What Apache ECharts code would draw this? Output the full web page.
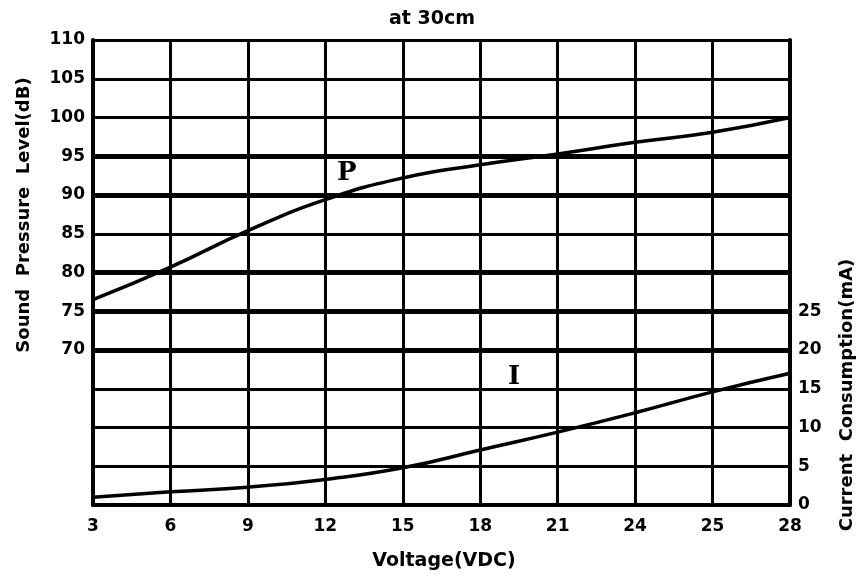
<!DOCTYPE html>
<html>
<head>
<meta charset="utf-8">
<script src="https://cdn.jsdelivr.net/npm/echarts@6/dist/echarts.min.js"></script>
<style>
  html, body { margin: 0; padding: 0; background: #fff; }
  #chart { width: 864px; height: 580px; }
</style>
</head>
<body>
<div id="chart"></div>
<script>
// voltage steps on the x axis (the 25 is printed that way on the original)
var volts = ['3', '6', '9', '12', '15', '18', '21', '24', '25', '28'];
// sound pressure level, dB (left axis)
var splValues = [76.5, 80.7, 85.4, 89.4, 92.2, 93.9, 95.3, 96.8, 98.1, 100];
// current consumption, mA (right axis)
var currentValues = [1.0, 1.7, 2.3, 3.3, 4.8, 7.1, 9.4, 11.9, 14.6, 17.0];
// grid rows drawn heavier in the original
var heavyRows = [95, 90, 80, 75, 70];

var labelFont = 'DejaVu Sans';

var myChart = echarts.init(document.getElementById('chart'));
var option = {
    backgroundColor: '#ffffff',
    animation: false,
    title: {
        text: 'at 30cm',
        left: 'center',
        top: 5,
        textStyle: { fontFamily: labelFont, fontSize: 19, fontWeight: 'bold', color: '#000' }
    },
    grid: { left: 93, right: 74, top: 40, bottom: 75 },
    xAxis: {
        type: 'category',
        data: volts,
        boundaryGap: false,
        axisLine: { lineStyle: { color: '#000', width: 4 } },
        axisTick: { show: false },
        axisLabel: { color: '#000', fontFamily: labelFont, fontSize: 17, fontWeight: 'bold', margin: 13 },
        splitLine: { show: true, lineStyle: { color: '#000', width: 3 } }
    },
    yAxis: [
        {
            // left: dB, grid runs down to 50 but labels stop at 70
            type: 'value',
            min: 50,
            max: 110,
            interval: 5,
            axisLine: { show: true, lineStyle: { color: '#000', width: 4 } },
            axisTick: { show: false },
            axisLabel: {
                color: '#000', fontFamily: labelFont, fontSize: 17, fontWeight: 'bold', margin: 8,
                formatter: function (v) { return v >= 70 ? String(v) : ''; }
            },
            splitLine: { show: true, lineStyle: { color: '#000', width: 3 } }
        },
        {
            // right: mA, labels only 0..25
            type: 'value',
            min: 0,
            max: 60,
            interval: 5,
            position: 'right',
            axisLine: { show: true, lineStyle: { color: '#000', width: 4 } },
            axisTick: { show: false },
            axisLabel: {
                color: '#000', fontFamily: labelFont, fontSize: 17, fontWeight: 'bold', margin: 8,
                formatter: function (v) { return v <= 25 ? String(v) : ''; }
            },
            splitLine: { show: false }
        }
    ],
    series: [
        {
            name: 'P',
            type: 'line',
            yAxisIndex: 0,
            data: splValues,
            smooth: true,
            symbol: 'none',
            lineStyle: { color: '#000', width: 3.5 },
            markLine: {
                silent: true,
                symbol: 'none',
                label: { show: false },
                lineStyle: { color: '#000', width: 5, type: 'solid' },
                data: heavyRows.map(function (v) { return { yAxis: v }; })
            }
        },
        {
            name: 'I',
            type: 'line',
            yAxisIndex: 1,
            data: currentValues,
            smooth: true,
            symbol: 'none',
            lineStyle: { color: '#000', width: 3.5 }
        }
    ],
    graphic: [
        {
            type: 'text', left: 337, top: 160,
            style: { text: 'P', fontFamily: 'DejaVu Serif', fontSize: 26, fontWeight: 'bold', fill: '#000' }
        },
        {
            type: 'text', left: 508, top: 364,
            style: { text: 'I', fontFamily: 'DejaVu Serif', fontSize: 26, fontWeight: 'bold', fill: '#000' }
        },
        {
            type: 'text', x: 24, y: 215, rotation: Math.PI / 2,
            style: {
                text: 'Sound  Pressure  Level(dB)', fontFamily: labelFont, fontSize: 18, fontWeight: 'bold',
                fill: '#000', align: 'center', verticalAlign: 'middle'
            }
        },
        {
            type: 'text', x: 847, y: 395, rotation: Math.PI / 2,
            style: {
                text: 'Current  Consumption(mA)', fontFamily: labelFont, fontSize: 18, fontWeight: 'bold',
                fill: '#000', align: 'center', verticalAlign: 'middle'
            }
        },
        {
            type: 'text', x: 444, y: 561,
            style: {
                text: 'Voltage(VDC)', fontFamily: labelFont, fontSize: 19, fontWeight: 'bold',
                fill: '#000', align: 'center', verticalAlign: 'middle'
            }
        }
    ]
};
myChart.setOption(option);
</script>
</body>
</html>
